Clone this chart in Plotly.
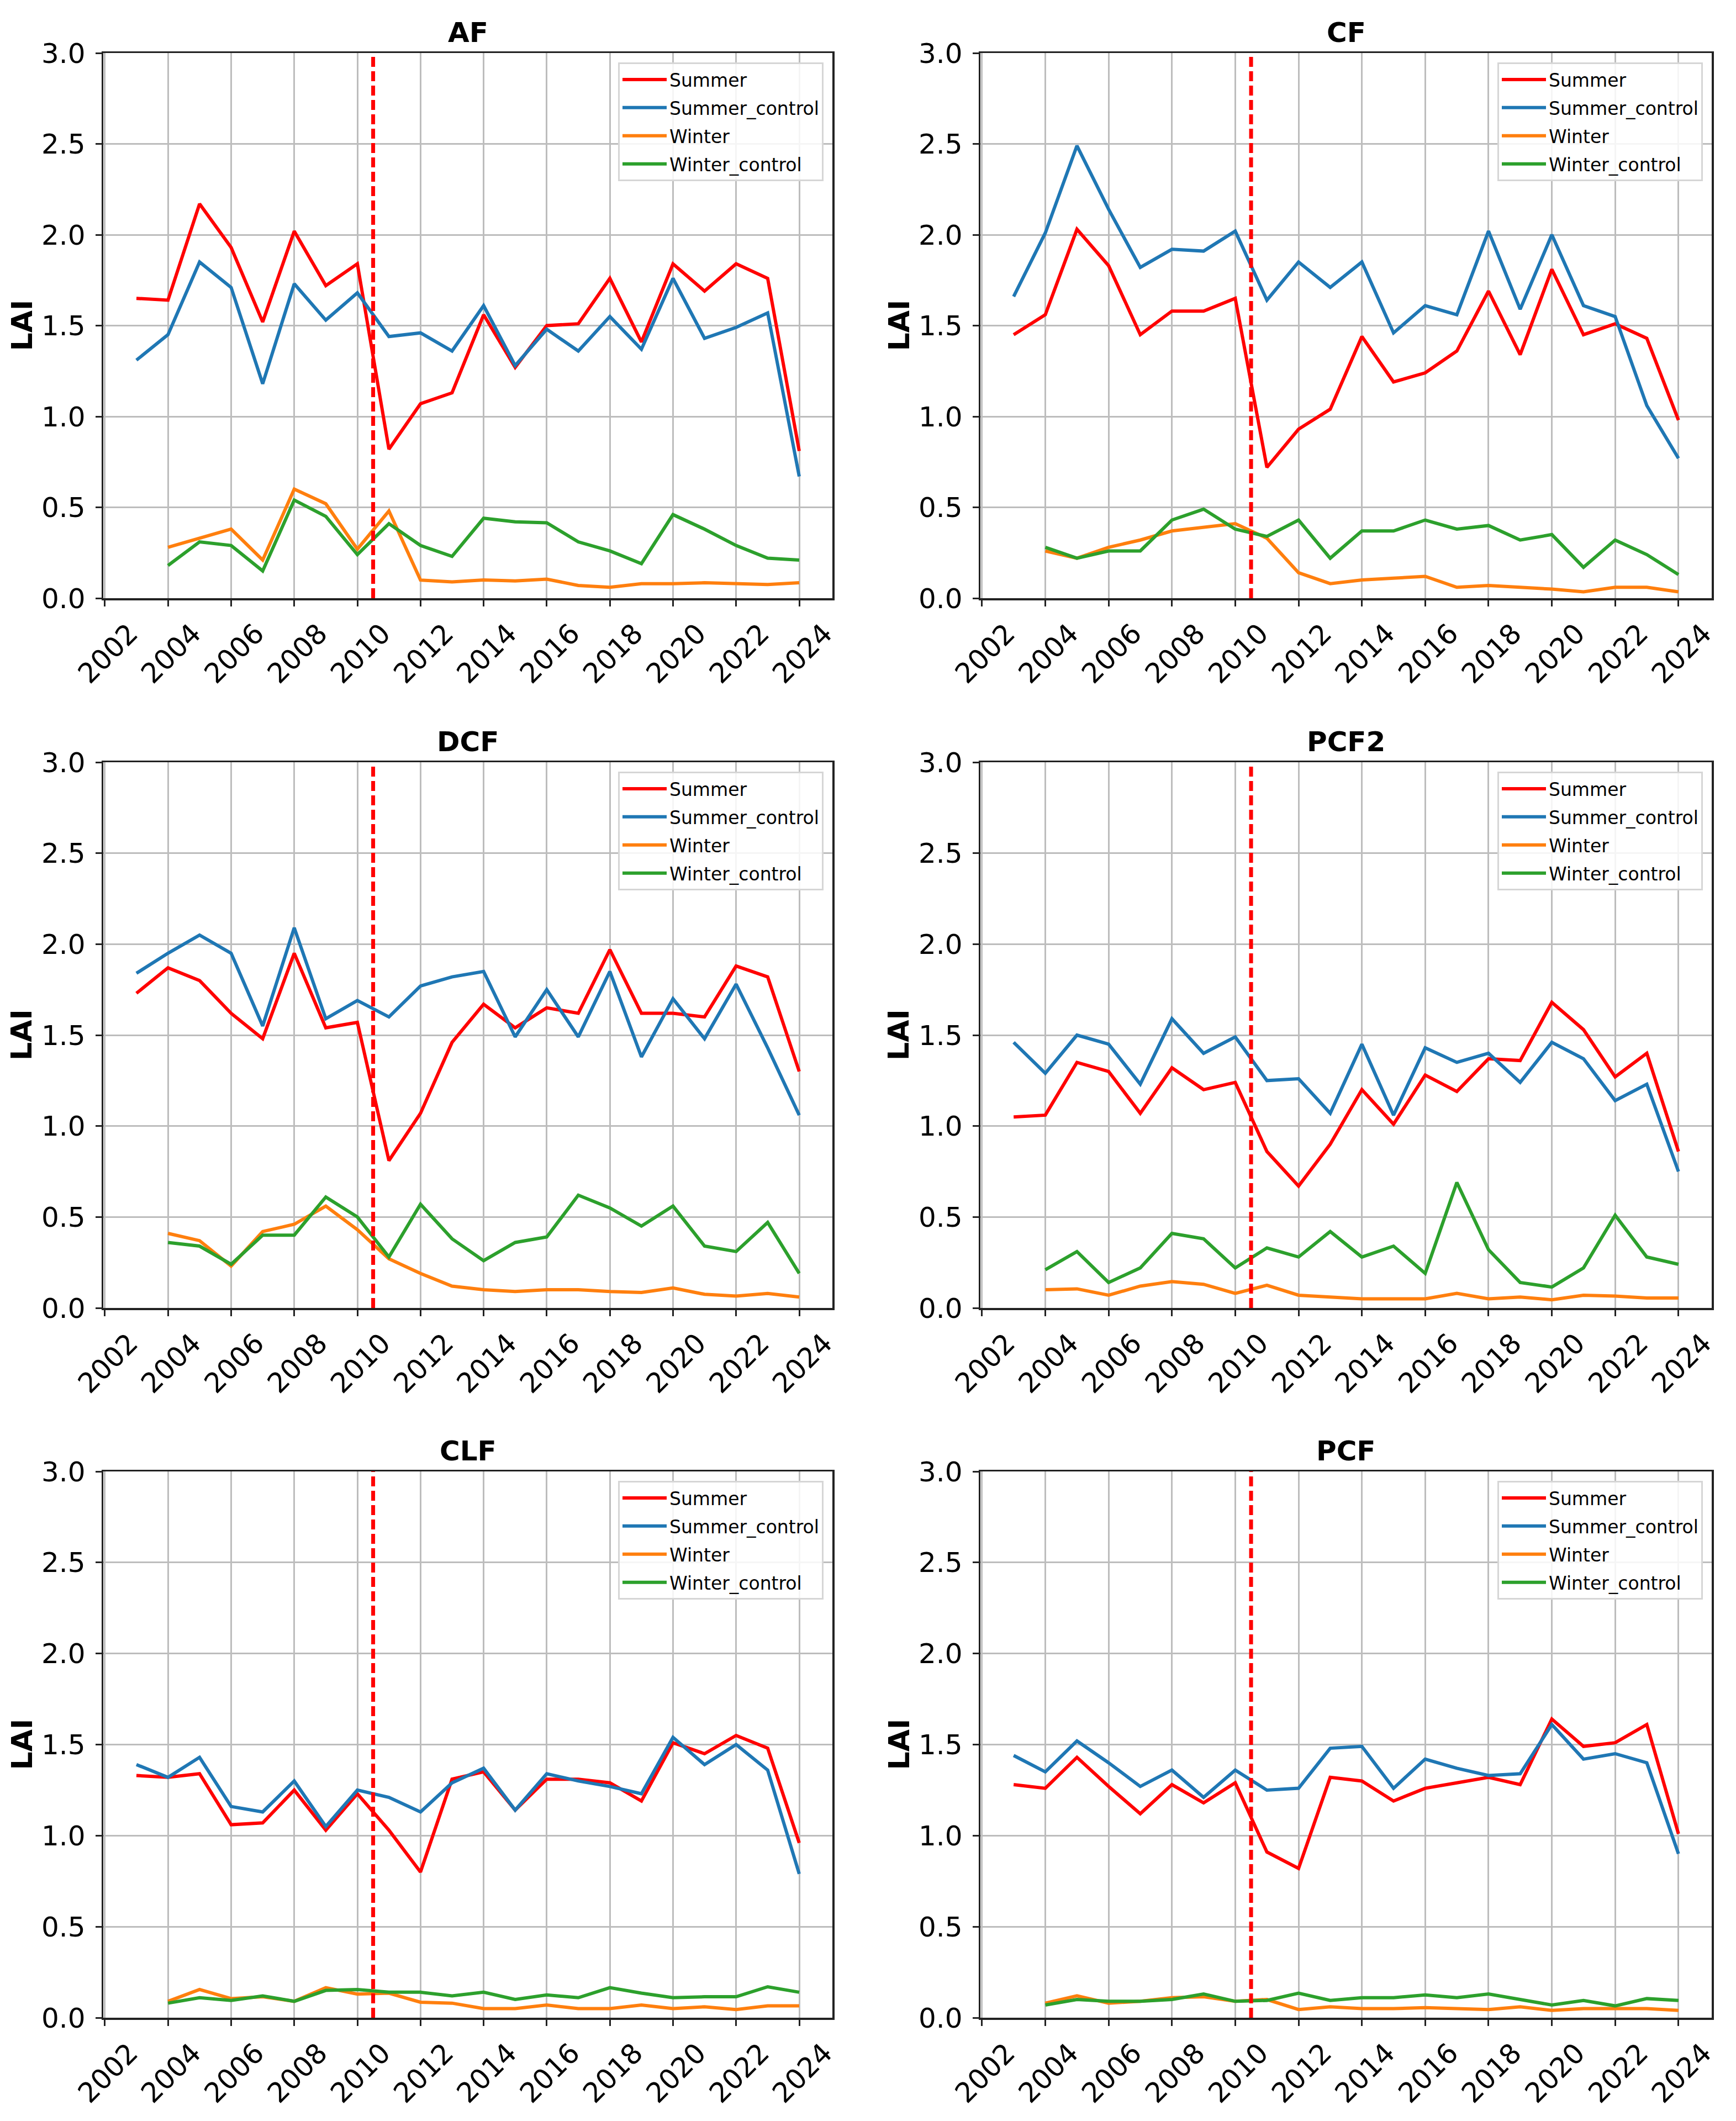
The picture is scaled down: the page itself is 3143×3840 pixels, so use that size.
import plotly.graph_objects as go

FONT = "DejaVu Sans, sans-serif"

years_summer = list(range(2003, 2025))
years_winter = list(range(2004, 2025))
x_ticks = list(range(2002, 2025, 2))
y_ticks = [0.0, 0.5, 1.0, 1.5, 2.0, 2.5, 3.0]
BREAK_YEAR = 2010.5

panel_names = ["AF", "CF", "DCF", "PCF2", "CLF", "PCF"]
series_names = ["Summer", "Summer_control", "Winter", "Winter_control"]
series_colors = ["#ff0000", "#1f77b4", "#ff7f0e", "#2ca02c"]

# ---- AF ----
af_summer = [1.65, 1.64, 2.17, 1.93, 1.52, 2.02, 1.72, 1.84, 0.82, 1.07, 1.13,
             1.56, 1.27, 1.50, 1.51, 1.76, 1.41, 1.84, 1.69, 1.84, 1.76, 0.81]
af_summer_control = [1.31, 1.45, 1.85, 1.71, 1.18, 1.73, 1.53, 1.68, 1.44, 1.46, 1.36,
                     1.61, 1.28, 1.48, 1.36, 1.55, 1.37, 1.76, 1.43, 1.49, 1.57, 0.67]
af_winter = [0.28, 0.33, 0.38, 0.21, 0.60, 0.52, 0.27, 0.48, 0.10, 0.09, 0.10,
             0.095, 0.105, 0.07, 0.06, 0.08, 0.08, 0.085, 0.08, 0.075, 0.085]
af_winter_control = [0.18, 0.31, 0.29, 0.15, 0.54, 0.45, 0.24, 0.41, 0.29, 0.23, 0.44,
                     0.42, 0.415, 0.31, 0.26, 0.19, 0.46, 0.38, 0.29, 0.22, 0.21]

# ---- CF ----
cf_summer = [1.45, 1.56, 2.03, 1.83, 1.45, 1.58, 1.58, 1.65, 0.72, 0.93, 1.04,
             1.44, 1.19, 1.24, 1.36, 1.69, 1.34, 1.81, 1.45, 1.51, 1.43, 0.98]
cf_summer_control = [1.66, 2.01, 2.49, 2.14, 1.82, 1.92, 1.91, 2.02, 1.64, 1.85, 1.71,
                     1.85, 1.46, 1.61, 1.56, 2.02, 1.59, 2.00, 1.61, 1.55, 1.06, 0.77]
cf_winter = [0.26, 0.22, 0.28, 0.32, 0.37, 0.39, 0.41, 0.33, 0.14, 0.08, 0.10,
             0.11, 0.12, 0.06, 0.07, 0.06, 0.05, 0.035, 0.06, 0.06, 0.035]
cf_winter_control = [0.28, 0.22, 0.26, 0.26, 0.43, 0.49, 0.38, 0.34, 0.43, 0.22, 0.37,
                     0.37, 0.43, 0.38, 0.40, 0.32, 0.35, 0.17, 0.32, 0.24, 0.13]

# ---- DCF ----
dcf_summer = [1.73, 1.87, 1.80, 1.62, 1.48, 1.95, 1.54, 1.57, 0.81, 1.07, 1.46,
              1.67, 1.54, 1.65, 1.62, 1.97, 1.62, 1.62, 1.60, 1.88, 1.82, 1.30]
dcf_summer_control = [1.84, 1.95, 2.05, 1.95, 1.55, 2.09, 1.59, 1.69, 1.60, 1.77, 1.82,
                      1.85, 1.49, 1.75, 1.49, 1.85, 1.38, 1.70, 1.48, 1.78, 1.43, 1.06]
dcf_winter = [0.41, 0.37, 0.23, 0.42, 0.46, 0.56, 0.43, 0.27, 0.19, 0.12, 0.10,
              0.09, 0.10, 0.10, 0.09, 0.085, 0.11, 0.075, 0.065, 0.08, 0.06]
dcf_winter_control = [0.36, 0.34, 0.24, 0.40, 0.40, 0.61, 0.50, 0.28, 0.57, 0.38, 0.26,
                      0.36, 0.39, 0.62, 0.55, 0.45, 0.56, 0.34, 0.31, 0.47, 0.19]

# ---- PCF2 ----
pcf2_summer = [1.05, 1.06, 1.35, 1.30, 1.07, 1.32, 1.20, 1.24, 0.86, 0.67, 0.90,
               1.20, 1.01, 1.28, 1.19, 1.37, 1.36, 1.68, 1.53, 1.27, 1.40, 0.86]
pcf2_summer_control = [1.46, 1.29, 1.50, 1.45, 1.23, 1.59, 1.40, 1.49, 1.25, 1.26, 1.07,
                       1.45, 1.06, 1.43, 1.35, 1.40, 1.24, 1.46, 1.37, 1.14, 1.23, 0.75]
pcf2_winter = [0.10, 0.105, 0.07, 0.12, 0.145, 0.13, 0.08, 0.125, 0.07, 0.06, 0.05,
               0.05, 0.05, 0.08, 0.05, 0.06, 0.045, 0.07, 0.065, 0.055, 0.055]
pcf2_winter_control = [0.21, 0.31, 0.14, 0.22, 0.41, 0.38, 0.22, 0.33, 0.28, 0.42, 0.28,
                       0.34, 0.19, 0.69, 0.32, 0.14, 0.115, 0.22, 0.51, 0.28, 0.24]

# ---- CLF ----
clf_summer = [1.33, 1.32, 1.34, 1.06, 1.07, 1.25, 1.03, 1.23, 1.03, 0.80, 1.31,
              1.35, 1.14, 1.31, 1.31, 1.29, 1.19, 1.51, 1.45, 1.55, 1.48, 0.96]
clf_summer_control = [1.39, 1.32, 1.43, 1.16, 1.13, 1.30, 1.05, 1.25, 1.21, 1.13, 1.29,
                      1.37, 1.14, 1.34, 1.30, 1.27, 1.23, 1.54, 1.39, 1.50, 1.36, 0.79]
clf_winter = [0.09, 0.155, 0.105, 0.115, 0.09, 0.165, 0.13, 0.135, 0.085, 0.08, 0.05,
              0.05, 0.07, 0.05, 0.05, 0.07, 0.05, 0.06, 0.045, 0.065, 0.065]
clf_winter_control = [0.08, 0.11, 0.095, 0.12, 0.09, 0.15, 0.155, 0.14, 0.14, 0.12, 0.14,
                      0.10, 0.125, 0.11, 0.165, 0.135, 0.11, 0.115, 0.115, 0.17, 0.14]

# ---- PCF ----
pcf_summer = [1.28, 1.26, 1.43, 1.27, 1.12, 1.28, 1.18, 1.29, 0.91, 0.82, 1.32,
              1.30, 1.19, 1.26, 1.29, 1.32, 1.28, 1.64, 1.49, 1.51, 1.61, 1.01]
pcf_summer_control = [1.44, 1.35, 1.52, 1.40, 1.27, 1.36, 1.21, 1.36, 1.25, 1.26, 1.48,
                      1.49, 1.26, 1.42, 1.37, 1.33, 1.34, 1.61, 1.42, 1.45, 1.40, 0.90]
pcf_winter = [0.08, 0.12, 0.08, 0.09, 0.11, 0.115, 0.09, 0.10, 0.045, 0.06, 0.05,
              0.05, 0.055, 0.05, 0.045, 0.06, 0.04, 0.05, 0.05, 0.05, 0.04]
pcf_winter_control = [0.07, 0.10, 0.09, 0.09, 0.10, 0.13, 0.09, 0.095, 0.135, 0.095, 0.11,
                      0.11, 0.125, 0.11, 0.13, 0.10, 0.07, 0.095, 0.065, 0.105, 0.095]

panel_data = [
    (af_summer, af_summer_control, af_winter, af_winter_control),
    (cf_summer, cf_summer_control, cf_winter, cf_winter_control),
    (dcf_summer, dcf_summer_control, dcf_winter, dcf_winter_control),
    (pcf2_summer, pcf2_summer_control, pcf2_winter, pcf2_winter_control),
    (clf_summer, clf_summer_control, clf_winter, clf_winter_control),
    (pcf_summer, pcf_summer_control, pcf_winter, pcf_winter_control),
]

W, H = 3143, 3840
col_px = [(187, 1507), (1775, 3099)]
row_px = [(96, 1083), (1380, 2368), (2664, 3653)]

fig = go.Figure()
layout = dict(
    template="none",
    width=W, height=H,
    margin=dict(l=0, r=0, t=0, b=0, autoexpand=False),
    paper_bgcolor="white", plot_bgcolor="white",
    font=dict(family=FONT, color="black", size=50),
    showlegend=True,
)
annotations = []
shapes = []

for i, name in enumerate(panel_names):
    r, c = divmod(i, 2)
    x0p, x1p = col_px[c]
    y0p, y1p = row_px[r]
    xd = [x0p / W, x1p / W]
    yd = [1 - y1p / H, 1 - y0p / H]
    n = "" if i == 0 else str(i + 1)
    xa, ya = "x" + n, "y" + n
    leg = "legend" + n

    for k, sname in enumerate(series_names):
        xs = years_summer if k < 2 else years_winter
        fig.add_trace(go.Scatter(
            x=xs, y=panel_data[i][k], mode="lines", name=sname,
            line=dict(color=series_colors[k], width=6),
            xaxis=xa, yaxis=ya, legend=leg, legendgroup=f"{name}_{k}",
            hoverinfo="skip",
        ))

    axis_common = dict(
        automargin=False,
        showline=True, mirror=True, linecolor="#222222", linewidth=3.5,
        showgrid=True, gridcolor="#bdbdbd", gridwidth=3,
        ticks="outside", ticklen=11, tickwidth=3, tickcolor="#222222",
        zeroline=False, tickfont=dict(family=FONT, size=50, color="black"),
    )
    layout["xaxis" + n] = dict(
        axis_common, domain=xd, anchor=ya, range=[2001.95, 2025.05],
        tickmode="array", tickvals=x_ticks, ticktext=[str(t) for t in x_ticks],
        tickangle=-45, ticklabelshift=45,
    )
    layout["yaxis" + n] = dict(
        axis_common, domain=yd, anchor=xa, range=[0, 3.0],
        tickmode="array", tickvals=y_ticks, ticktext=[f"{t:.1f}" for t in y_ticks],
        ticklabelstandoff=8,
    )
    layout[leg] = dict(
        x=(x1p - 16) / W, y=1 - (y0p + 17) / H, xanchor="right", yanchor="top",
        xref="paper", yref="paper",
        bgcolor="rgba(255,255,255,0.85)", bordercolor="#d6d6d6", borderwidth=3,
        font=dict(family=FONT, size=33, color="black"),
        tracegroupgap=5, itemwidth=80,
    )
    annotations.append(dict(
        text=f"<b>{name}</b>", x=(xd[0] + xd[1]) / 2, y=yd[1], xref="paper", yref="paper",
        xanchor="center", yanchor="bottom", yshift=6, showarrow=False,
        font=dict(family=FONT, size=50, color="black"),
    ))
    annotations.append(dict(
        text="<b>LAI</b>", x=xd[0], y=(yd[0] + yd[1]) / 2, xref="paper", yref="paper",
        xanchor="center", yanchor="middle", xshift=-148, textangle=-90, showarrow=False,
        font=dict(family=FONT, size=52, color="black"),
    ))
    shapes.append(dict(
        type="line", xref=xa, yref=ya + " domain", x0=BREAK_YEAR, x1=BREAK_YEAR, y0=0, y1=1,
        line=dict(color="#ff0000", width=7, dash="18px,8px"), layer="above",
    ))

layout["annotations"] = annotations
layout["shapes"] = shapes
fig.update_layout(**layout)
fig.write_html(
    "out.html",
    config={"displayModeBar": False, "staticPlot": True},
    post_script="document.body.style.margin='0px';",
)
